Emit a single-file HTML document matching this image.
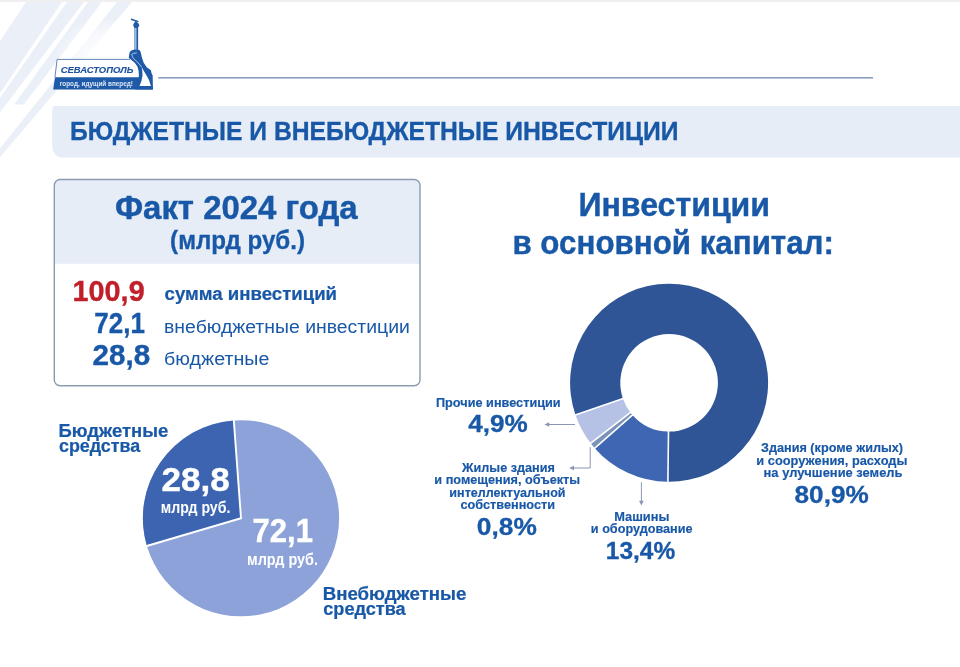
<!DOCTYPE html>
<html lang="ru">
<head>
<meta charset="utf-8">
<title>Бюджетные и внебюджетные инвестиции</title>
<style>
html,body{margin:0;padding:0;background:#fff;}
body{width:960px;height:667px;position:relative;overflow:hidden;font-family:"Liberation Sans",sans-serif;}
#bg{position:absolute;left:0;top:0;}
.t{position:absolute;left:0;top:0;margin:0;white-space:nowrap;font-size:40px;line-height:40px;transform-origin:0 0;font-weight:700;color:#1858a7;-webkit-text-stroke:0.5px currentColor;}
</style>
</head>
<body>
<svg id="bg" width="960" height="667" viewBox="0 0 960 667">
<defs><radialGradient id="glow"><stop offset="0" stop-color="#fff" stop-opacity="0.85"/><stop offset="0.55" stop-color="#fff" stop-opacity="0.6"/><stop offset="1" stop-color="#fff" stop-opacity="0"/></radialGradient></defs>
<polygon points="26.0,2 62.0,2 -11.4,110 -46.0,110" fill="#ebf0f8"/>
<polygon points="67.0,2 84.0,2 -9.7,125 -19.1,125" fill="#ebf0f8"/>
<polygon points="88.0,2 102.0,2 23.8,104.5 14.2,104.5" fill="#ebf0f8"/>
<polygon points="117.0,2 132.0,2 -15.0,175 -21.4,175" fill="#ebf0f8"/>
<ellipse cx="106" cy="54" rx="52" ry="36" fill="url(#glow)"/>
<rect x="0" y="0" width="960" height="1.9" fill="#efefef"/>
<rect x="158.3" y="77.05" width="714.8" height="1.5" fill="#8299bd"/>
<path d="M55,105.9 H960 V157.6 H63.3 A11,11 0 0 1 52.3,146.6 V108.6 A2.7,2.7 0 0 1 55,105.9 Z" fill="#e6edf7"/>
<rect x="54.3" y="179.5" width="365.7" height="206.3" rx="5.8" fill="#fff"/>
<path d="M54.3,263.7 V185.3 A5.8,5.8 0 0 1 60.099999999999994,179.5 H414.2 A5.8,5.8 0 0 1 420.0,185.3 V263.7 Z" fill="#e6edf7"/>
<rect x="54.3" y="179.5" width="365.7" height="206.3" rx="5.8" fill="none" stroke="#8a9bb2" stroke-width="1.4"/>
<g id="logo">
<path d="M57.1,59.4 H130.6 L134.7,62.7 L137.4,66.5 L138.6,71 L138.9,75.5 L138.8,77.4 H55 Z" fill="#fff"/>
<path d="M55,77.3 H140 L152.9,86 V89.4 H53.2 Z" fill="#1f5aa8"/>
<path d="M54.95,77.3 L57.1,59.4 H130" fill="none" stroke="#4f77b3" stroke-width="0.9"/>
<path d="M130.9,19.1 L131.4,18.6 L135.6,19.9 L138.7,20.9 L138.4,21.9 L136.6,21.7 L138.4,23.2 L139.4,25.2 L138.3,27.2 L138.1,28.4 L134.3,28.4 L134.1,27.2 L133.1,25.2 L133.9,23.2 L135.4,21.6 L131,20 Z" fill="#1f5aa8"/>
<rect x="134.3" y="28.2" width="2.2" height="21.6" fill="#9dbce2"/>
<rect x="136.4" y="28.2" width="1.7" height="21.6" fill="#1f5aa8"/>
<rect x="134.3" y="28.2" width="0.5" height="21.6" fill="#5b8ac6"/>
<path d="M134.4,49.6 L138.1,49.6 C139.6,50 140.4,51 140.7,52.2 L141.9,57.5 L143.7,62.7 L146.7,67.2 L150.9,70.2 L151.6,73.6 L152.7,75.5 L152.9,89.4 L135,89.4 L136.6,85.2 L138.1,80.7 L138.9,75.5 L138.6,71 L137.4,66.5 L134.7,62.7 L128.7,57.8 L129.6,52.6 C130.4,51 132,50 134.4,49.6 Z" fill="#1f5aa8"/>
<path d="M141.6,67 L144.1,71.4 L146,74.4 L149,80 L150.9,86 L139.4,86 L139.9,85.2 L141.5,80.7 L142.5,75.5 L142.3,71 Z" fill="#fff"/>
<path d="M141.6,67 L137.4,62 L133.4,58.4 L132.3,56.4 L131.7,54.3 L133.4,53.3 L136.8,53" fill="none" stroke="#cfe0f6" stroke-width="0.8" stroke-linejoin="round"/>
</g>
<circle cx="241.0" cy="518.25" r="98.1" fill="#8da2d8"/>
<path d="M241.0,518.25 L233.82,420.41 A98.1,98.1 0 0 0 146.89,545.95 Z" fill="#3c64b1"/>
<path d="M233.74,419.42 L241.0,518.25 L145.93,546.23" fill="none" stroke="#fff" stroke-width="1.9" stroke-linejoin="miter"/>
<path d="M667.89,481.79 A99.0,99.0 0 1 0 575.49,415.03 L622.96,398.69 A48.8,48.8 0 1 1 668.50,431.60 Z" fill="#2f5597"/>
<path d="M575.49,415.03 A99.0,99.0 0 0 0 590.66,443.20 L630.44,412.58 A48.8,48.8 0 0 1 622.96,398.69 Z" fill="#b6c2e5"/>
<path d="M590.66,443.20 A99.0,99.0 0 0 0 594.72,448.14 L632.44,415.01 A48.8,48.8 0 0 1 630.44,412.58 Z" fill="#7b93b8"/>
<path d="M594.72,448.14 A99.0,99.0 0 0 0 667.89,481.79 L668.50,431.60 A48.8,48.8 0 0 1 632.44,415.01 Z" fill="#3f66b3"/>
<line x1="623.90" y1="398.36" x2="574.55" y2="415.36" stroke="#fff" stroke-width="1.6"/>
<line x1="631.23" y1="411.96" x2="589.87" y2="443.81" stroke="#fff" stroke-width="1.6"/>
<line x1="633.19" y1="414.35" x2="593.97" y2="448.80" stroke="#fff" stroke-width="1.6"/>
<line x1="668.52" y1="430.60" x2="667.88" y2="482.79" stroke="#fff" stroke-width="1.6"/>
<path d="M575,424.5 H548" stroke="#8d94b4" stroke-width="1" fill="none"/>
<path d="M544.4,424.5 L549.2,422.2 V426.8 Z" fill="#8d94b4"/>
<path d="M590.2,447.2 V468 H573" stroke="#8d94b4" stroke-width="1" fill="none"/>
<path d="M569.2,468 L574,465.7 V470.3 Z" fill="#8d94b4"/>
<path d="M641.4,482.3 V501" stroke="#8d94b4" stroke-width="1" fill="none"/>
<path d="M641.4,505.6 L639.1,500.8 H643.7 Z" fill="#8d94b4"/>
</svg>
<div class="t" style="transform:matrix(0.2367,0,0,0.2475,60.66,64.59);color:#1d52a0;font-style:italic;">СЕВАСТОПОЛЬ</div>
<div class="t" style="transform:matrix(0.1589,0,0,0.1900,59.78,79.24);color:#dbe7f6;-webkit-text-stroke:0;">город, идущий вперед!</div>
<div class="t" style="transform:matrix(0.6168,0,0,0.6350,70.07,118.41);">БЮДЖЕТНЫЕ И ВНЕБЮДЖЕТНЫЕ ИНВЕСТИЦИИ</div>
<div class="t" style="transform:matrix(0.8230,0,0,0.8500,114.98,190.40);">Факт 2024 года</div>
<div class="t" style="transform:matrix(0.6034,0,0,0.6500,170.09,226.60);">(млрд руб.)</div>
<div class="t" style="transform:matrix(0.7202,0,0,0.7200,72.56,276.12);color:#c1202b;">100,9</div>
<div class="t" style="transform:matrix(0.4653,0,0,0.4625,164.53,284.67);">сумма инвестиций</div>
<div class="t" style="transform:matrix(0.6488,0,0,0.7150,94.35,308.49);">72,1</div>
<div class="t" style="transform:matrix(0.4854,0,0,0.4625,164.03,317.27);font-weight:400;-webkit-text-stroke:0;">внебюджетные инвестиции</div>
<div class="t" style="transform:matrix(0.7402,0,0,0.7150,92.56,340.59);">28,8</div>
<div class="t" style="transform:matrix(0.4915,0,0,0.4625,164.02,348.88);font-weight:400;-webkit-text-stroke:0;">бюджетные</div>
<div class="t" style="transform:matrix(0.4624,0,0,0.4500,58.48,421.60);">Бюджетные</div>
<div class="t" style="transform:matrix(0.4469,0,0,0.4500,58.95,436.20);">средства</div>
<div class="t" style="transform:matrix(0.8759,0,0,0.8325,161.62,462.69);color:#ffffff;">28,8</div>
<div class="t" style="transform:matrix(0.3532,0,0,0.4000,160.79,499.70);color:#ffffff;-webkit-text-stroke:0;">млрд руб.</div>
<div class="t" style="transform:matrix(0.7754,0,0,0.8325,252.62,514.00);color:#ffffff;">72,1</div>
<div class="t" style="transform:matrix(0.3605,0,0,0.4000,246.98,551.50);color:#ffffff;-webkit-text-stroke:0;">млрд руб.</div>
<div class="t" style="transform:matrix(0.4655,0,0,0.4500,322.82,584.20);">Внебюджетные</div>
<div class="t" style="transform:matrix(0.4527,0,0,0.4500,323.30,599.30);">средства</div>
<div class="t" style="transform:matrix(0.8024,0,0,0.8200,578.40,188.52);">Инвестиции</div>
<div class="t" style="transform:matrix(0.7823,0,0,0.8200,512.44,225.72);">в основной капитал:</div>
<div class="t" style="transform:matrix(0.3176,0,0,0.3350,435.96,395.51);">Прочие инвестиции</div>
<div class="t" style="transform:matrix(0.6523,0,0,0.5875,468.20,411.82);">4,9%</div>
<div class="t" style="transform:matrix(0.3168,0,0,0.3350,462.02,460.61);">Жилые здания</div>
<div class="t" style="transform:matrix(0.3170,0,0,0.3350,434.37,472.91);">и помещения, объекты</div>
<div class="t" style="transform:matrix(0.3131,0,0,0.3350,449.37,485.31);">интеллектуальной</div>
<div class="t" style="transform:matrix(0.3176,0,0,0.3350,460.48,497.81);">собственности</div>
<div class="t" style="transform:matrix(0.6573,0,0,0.5875,476.84,514.62);">0,8%</div>
<div class="t" style="transform:matrix(0.3200,0,0,0.3350,614.26,510.01);">Машины</div>
<div class="t" style="transform:matrix(0.3160,0,0,0.3350,590.87,522.01);">и оборудование</div>
<div class="t" style="transform:matrix(0.6116,0,0,0.5875,605.78,539.23);">13,4%</div>
<div class="t" style="transform:matrix(0.3166,0,0,0.3350,761.00,441.01);">Здания (кроме жилых)</div>
<div class="t" style="transform:matrix(0.3207,0,0,0.3350,756.36,453.21);">и сооружения, расходы</div>
<div class="t" style="transform:matrix(0.3230,0,0,0.3350,763.55,465.61);">на улучшение земель</div>
<div class="t" style="transform:matrix(0.6535,0,0,0.5825,794.55,482.80);">80,9%</div>
</body>
</html>
